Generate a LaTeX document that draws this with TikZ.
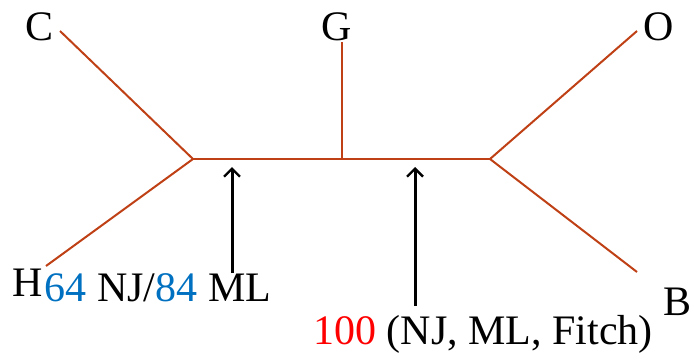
\documentclass[tikz,border=0pt]{standalone}
\usepackage{fontspec}
\setmainfont{Liberation Serif}
\usetikzlibrary{arrows.meta}
\definecolor{branch}{RGB}{190,64,20}
\definecolor{numblue}{RGB}{0,112,192}
\definecolor{numred}{RGB}{255,0,0}
\begin{document}
\begin{tikzpicture}[x=1pt,y=-1pt,
  taxon/.style={inner sep=0pt,font=\fontsize{42}{46}\selectfont},
  lbl/.style={inner sep=0pt,anchor=base,font=\fontsize{42}{46}\selectfont},
  edge/.style={branch,line width=2pt},
  pointer/.style={line width=3pt,-{Straight Barb[length=8pt,width=16pt,line width=2.4pt]}}]
\useasboundingbox (0,0) rectangle (694,362);
% taxa
\node[taxon] (C) at (40,27) {C};
\node[taxon] (G) at (337,27) {G};
\node[taxon] (O) at (659,27) {O};
\node[taxon] (H) at (28,283) {H};
\node[taxon] (B) at (678,302) {B};
% internal nodes
\coordinate (L) at (193,159);
\coordinate (M) at (342,159);
\coordinate (R) at (490,159);
\coordinate (Cend) at (60,31);
\coordinate (Gend) at (342,42);
\coordinate (Oend) at (637,31);
\coordinate (Hend) at (46,266);
\coordinate (Bend) at (637,272);
\draw[edge] (Cend) -- (L);
\draw[edge] (Hend) -- (L);
\draw[edge] (Gend) -- (M);
\draw[edge] (Oend) -- (R);
\draw[edge] (Bend) -- (R);
\draw[edge] (L) -- (R);
% labels
\node[lbl] (lab1) at (158,301) {\textcolor{numblue}{64} NJ/\textcolor{numblue}{84} ML};
\node[lbl] (lab2) at (483,344) {\textcolor{numred}{100} (NJ, ML, Fitch)};
\coordinate (a1s) at (232,273);
\coordinate (a1e) at (232,167);
\coordinate (a2s) at (415,306);
\coordinate (a2e) at (415,167);
\draw[pointer] (a1s) -- (a1e);
\draw[pointer] (a2s) -- (a2e);
\end{tikzpicture}
\end{document}
